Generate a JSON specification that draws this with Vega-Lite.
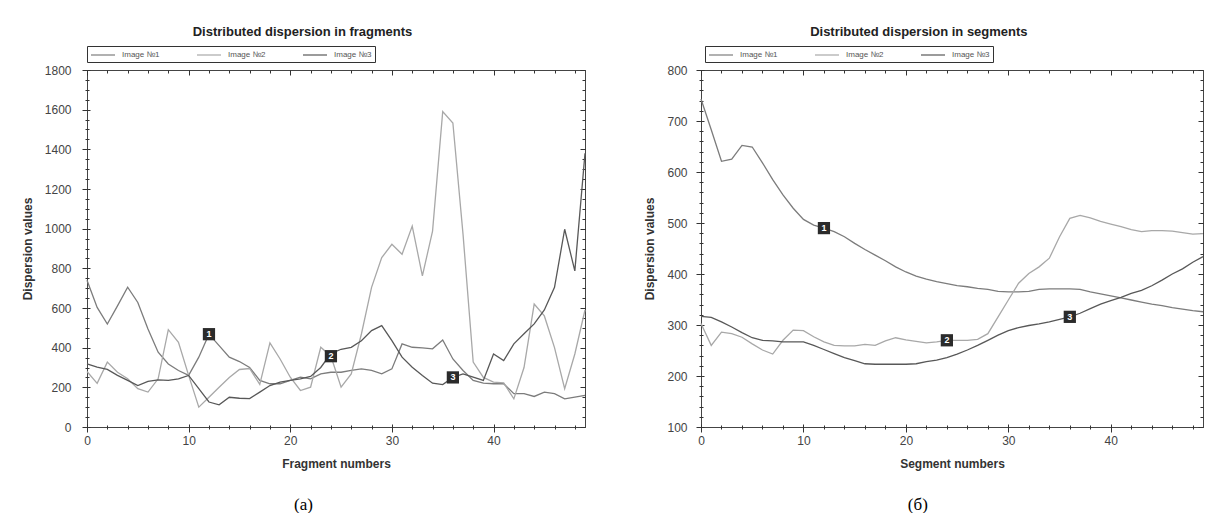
{
  "$schema": "https://vega.github.io/schema/vega-lite/v6.json",
  "background": "white",
  "padding": {"left": 20, "top": 25, "right": 8, "bottom": 0},
  "spacing": 54,
  "resolve": {"scale": {"color": "independent"}, "legend": {"color": "independent"}},
  "config": {
    "view": {"stroke": "#444", "strokeWidth": 1},
    "font": "Liberation Sans",
    "axis": {"labelFont": "Liberation Sans", "labelFontSize": 12, "labelColor": "#444", "titleFont": "Liberation Sans", "titleFontSize": 12, "titleFontWeight": "bold", "titleColor": "#333", "domain": false, "ticks": true, "tickColor": "#333", "tickWidth": 1, "tickOpacity": 1, "grid": false, "labelOverlap": false, "labelFlush": false}
  },
  "datasets": {
    "frag": [
      {"x":0,"Image №1":740,"Image №2":280,"Image №3":318},
      {"x":1,"Image №1":603,"Image №2":220,"Image №3":302},
      {"x":2,"Image №1":519,"Image №2":327,"Image №3":290},
      {"x":3,"Image №1":611,"Image №2":276,"Image №3":260},
      {"x":4,"Image №1":705,"Image №2":243,"Image №3":235},
      {"x":5,"Image №1":628,"Image №2":193,"Image №3":209},
      {"x":6,"Image №1":494,"Image №2":176,"Image №3":230},
      {"x":7,"Image №1":377,"Image №2":243,"Image №3":238},
      {"x":8,"Image №1":318,"Image №2":491,"Image №3":235},
      {"x":9,"Image №1":285,"Image №2":427,"Image №3":243},
      {"x":10,"Image №1":260,"Image №2":260,"Image №3":260},
      {"x":11,"Image №1":352,"Image №2":100,"Image №3":193},
      {"x":12,"Image №1":468,"Image №2":150,"Image №3":126},
      {"x":13,"Image №1":410,"Image №2":200,"Image №3":112},
      {"x":14,"Image №1":352,"Image №2":250,"Image №3":150},
      {"x":15,"Image №1":330,"Image №2":290,"Image №3":145},
      {"x":16,"Image №1":300,"Image №2":295,"Image №3":143},
      {"x":17,"Image №1":235,"Image №2":215,"Image №3":176},
      {"x":18,"Image №1":218,"Image №2":424,"Image №3":209},
      {"x":19,"Image №1":218,"Image №2":343,"Image №3":226},
      {"x":20,"Image №1":235,"Image №2":251,"Image №3":235},
      {"x":21,"Image №1":251,"Image №2":184,"Image №3":243},
      {"x":22,"Image №1":243,"Image №2":201,"Image №3":255},
      {"x":23,"Image №1":268,"Image №2":402,"Image №3":300},
      {"x":24,"Image №1":276,"Image №2":357,"Image №3":370},
      {"x":25,"Image №1":276,"Image №2":201,"Image №3":392},
      {"x":26,"Image №1":285,"Image №2":268,"Image №3":402},
      {"x":27,"Image №1":293,"Image №2":469,"Image №3":435},
      {"x":28,"Image №1":285,"Image №2":704,"Image №3":486},
      {"x":29,"Image №1":268,"Image №2":854,"Image №3":511},
      {"x":30,"Image №1":293,"Image №2":921,"Image №3":435},
      {"x":31,"Image №1":419,"Image №2":871,"Image №3":352},
      {"x":32,"Image №1":402,"Image №2":1013,"Image №3":301},
      {"x":33,"Image №1":399,"Image №2":762,"Image №3":260},
      {"x":34,"Image №1":394,"Image №2":988,"Image №3":221},
      {"x":35,"Image №1":439,"Image №2":1590,"Image №3":214},
      {"x":36,"Image №1":343,"Image №2":1533,"Image №3":250},
      {"x":37,"Image №1":285,"Image №2":971,"Image №3":268},
      {"x":38,"Image №1":235,"Image №2":327,"Image №3":251},
      {"x":39,"Image №1":221,"Image №2":250,"Image №3":235},
      {"x":40,"Image №1":218,"Image №2":226,"Image №3":368},
      {"x":41,"Image №1":218,"Image №2":222,"Image №3":335},
      {"x":42,"Image №1":168,"Image №2":142,"Image №3":419},
      {"x":43,"Image №1":168,"Image №2":300,"Image №3":470},
      {"x":44,"Image №1":154,"Image №2":620,"Image №3":520},
      {"x":45,"Image №1":176,"Image №2":560,"Image №3":590},
      {"x":46,"Image №1":168,"Image №2":400,"Image №3":704},
      {"x":47,"Image №1":142,"Image №2":193,"Image №3":997},
      {"x":48,"Image №1":151,"Image №2":368,"Image №3":787},
      {"x":49,"Image №1":159,"Image №2":590,"Image №3":1380}
    ],
    "seg": [
      {"x":0,"Image №1":743,"Image №2":303,"Image №3":317},
      {"x":1,"Image №1":683,"Image №2":260,"Image №3":315},
      {"x":2,"Image №1":621,"Image №2":286,"Image №3":306},
      {"x":3,"Image №1":625,"Image №2":283,"Image №3":296},
      {"x":4,"Image №1":652,"Image №2":276,"Image №3":285},
      {"x":5,"Image №1":649,"Image №2":263,"Image №3":275},
      {"x":6,"Image №1":618,"Image №2":251,"Image №3":270},
      {"x":7,"Image №1":585,"Image №2":243,"Image №3":269},
      {"x":8,"Image №1":555,"Image №2":270,"Image №3":267},
      {"x":9,"Image №1":529,"Image №2":290,"Image №3":267},
      {"x":10,"Image №1":507,"Image №2":289,"Image №3":267},
      {"x":11,"Image №1":496,"Image №2":277,"Image №3":260},
      {"x":12,"Image №1":490,"Image №2":267,"Image №3":252},
      {"x":13,"Image №1":483,"Image №2":260,"Image №3":244},
      {"x":14,"Image №1":473,"Image №2":259,"Image №3":236},
      {"x":15,"Image №1":460,"Image №2":259,"Image №3":230},
      {"x":16,"Image №1":448,"Image №2":262,"Image №3":224},
      {"x":17,"Image №1":437,"Image №2":260,"Image №3":223},
      {"x":18,"Image №1":426,"Image №2":269,"Image №3":223},
      {"x":19,"Image №1":414,"Image №2":275,"Image №3":223},
      {"x":20,"Image №1":404,"Image №2":271,"Image №3":223},
      {"x":21,"Image №1":396,"Image №2":268,"Image №3":224},
      {"x":22,"Image №1":390,"Image №2":265,"Image №3":228},
      {"x":23,"Image №1":385,"Image №2":267,"Image №3":231},
      {"x":24,"Image №1":381,"Image №2":270,"Image №3":236},
      {"x":25,"Image №1":377,"Image №2":270,"Image №3":243},
      {"x":26,"Image №1":375,"Image №2":270,"Image №3":251},
      {"x":27,"Image №1":372,"Image №2":272,"Image №3":260},
      {"x":28,"Image №1":370,"Image №2":283,"Image №3":270},
      {"x":29,"Image №1":366,"Image №2":316,"Image №3":280},
      {"x":30,"Image №1":365,"Image №2":349,"Image №3":289},
      {"x":31,"Image №1":365,"Image №2":382,"Image №3":295},
      {"x":32,"Image №1":366,"Image №2":401,"Image №3":299},
      {"x":33,"Image №1":370,"Image №2":414,"Image №3":302},
      {"x":34,"Image №1":371,"Image №2":431,"Image №3":306},
      {"x":35,"Image №1":371,"Image №2":473,"Image №3":311},
      {"x":36,"Image №1":371,"Image №2":509,"Image №3":316},
      {"x":37,"Image №1":370,"Image №2":515,"Image №3":323},
      {"x":38,"Image №1":365,"Image №2":510,"Image №3":332},
      {"x":39,"Image №1":361,"Image №2":503,"Image №3":341},
      {"x":40,"Image №1":357,"Image №2":498,"Image №3":348},
      {"x":41,"Image №1":353,"Image №2":493,"Image №3":354},
      {"x":42,"Image №1":349,"Image №2":487,"Image №3":362},
      {"x":43,"Image №1":345,"Image №2":483,"Image №3":368},
      {"x":44,"Image №1":341,"Image №2":485,"Image №3":377},
      {"x":45,"Image №1":338,"Image №2":485,"Image №3":388},
      {"x":46,"Image №1":334,"Image №2":484,"Image №3":400},
      {"x":47,"Image №1":331,"Image №2":481,"Image №3":410},
      {"x":48,"Image №1":328,"Image №2":478,"Image №3":423},
      {"x":49,"Image №1":326,"Image №2":479,"Image №3":434}
    ],
    "fragMarks": [
      {"x":12,"v":468,"label":"1"},
      {"x":24,"v":357,"label":"2"},
      {"x":36,"v":250,"label":"3"}
    ],
    "segMarks": [
      {"x":12,"v":490,"label":"1"},
      {"x":24,"v":270,"label":"2"},
      {"x":36,"v":316,"label":"3"}
    ]
  },
  "hconcat": [
    {
      "title": {"text": "(а)", "orient": "bottom", "font": "Liberation Serif", "fontSize": 17, "fontWeight": "normal", "color": "#000", "offset": 27, "anchor": "middle", "dx": -1},
      "vconcat": [
        {
          "width": 498,
          "height": 357,
          "title": {"text": "Distributed dispersion in fragments", "font": "Liberation Sans", "fontSize": 13, "fontWeight": "bold", "color": "#222", "anchor": "middle", "frame": "bounds", "offset": 25, "dx": -2},
          "data": {"name": "frag"},
          "transform": [{"fold": ["Image №1", "Image №2", "Image №3"], "as": ["s", "v"]}],
          "layer": [
            {
              "mark": {"type": "line", "strokeWidth": 1.3},
              "encoding": {
                "x": {"field": "x", "type": "quantitative", "scale": {"domain": [0, 49], "nice": false, "zero": false},
                  "axis": {"title": "Fragment numbers", "values": [0,10,20,30,40], "offset": -3, "ticks": true, "tickSize": 8, "labelPadding": 3, "titlePadding": 12}},
                "y": {"field": "v", "type": "quantitative", "scale": {"domain": [0, 1800], "nice": false},
                  "axis": {"title": "Dispersion values", "values": [0,200,400,600,800,1000,1200,1400,1600,1800], "format": "d", "offset": -3, "ticks": true, "tickSize": 8, "labelPadding": 11, "titlePadding": 10}},
                "color": {"field": "s", "type": "nominal",
                  "scale": {"domain": ["Image №1", "Image №2", "Image №3"], "range": ["#7c7c7c", "#a8a8a8", "#585858"]},
                  "legend": {"orient": "none", "legendX": 0, "legendY": -24, "direction": "horizontal", "title": null, "symbolType": "M-1,0H3.8", "symbolSize": 100, "symbolStrokeWidth": 1.2, "labelFontSize": 8, "labelColor": "#555", "labelOffset": 20, "strokeColor": "#333", "padding": 3, "columnPadding": 34}}
              }
            },
            {
              "mark": {"type": "point", "opacity": 0},
              "encoding": {
                "x": {"field": "x", "type": "quantitative", "axis": {"orient": "bottom", "title": null, "labels": false, "ticks": true, "values": [0,2,4,6,8,10,12,14,16,18,20,22,24,26,28,30,32,34,36,38,40,42,44,46,48], "offset": -2, "tickSize": 4}},
                "y": {"field": "v", "type": "quantitative", "axis": {"orient": "left", "title": null, "labels": false, "ticks": true, "values": [0,50,100,150,200,250,300,350,400,450,500,550,600,650,700,750,800,850,900,950,1000,1050,1100,1150,1200,1250,1300,1350,1400,1450,1500,1550,1600,1650,1700,1750,1800], "offset": -2, "tickSize": 4}}
              }
            },
            {
              "mark": {"type": "point", "opacity": 0},
              "encoding": {
                "x": {"field": "x", "type": "quantitative", "axis": {"orient": "top", "title": null, "labels": false, "ticks": true, "values": [0,2,4,6,8,10,12,14,16,18,20,22,24,26,28,30,32,34,36,38,40,42,44,46,48], "offset": -3, "tickSize": 3}},
                "y": {"field": "v", "type": "quantitative", "axis": {"orient": "right", "title": null, "labels": false, "ticks": true, "values": [0,50,100,150,200,250,300,350,400,450,500,550,600,650,700,750,800,850,900,950,1000,1050,1100,1150,1200,1250,1300,1350,1400,1450,1500,1550,1600,1650,1700,1750,1800], "offset": -3, "tickSize": 3}}
              }
            },
            {
              "mark": {"type": "point", "opacity": 0},
              "encoding": {
                "x": {"field": "x", "type": "quantitative", "axis": {"orient": "top", "title": null, "labels": false, "ticks": true, "values": [0,10,20,30,40], "offset": -5, "tickSize": 5}},
                "y": {"field": "v", "type": "quantitative", "axis": {"orient": "right", "title": null, "labels": false, "ticks": true, "values": [0,200,400,600,800,1000,1200,1400,1600,1800], "offset": -5, "tickSize": 5}}
              }
            },
            {
              "data": {"name": "fragMarks"},
              "mark": {"type": "point", "shape": "square", "filled": true, "color": "#2b2b2b", "size": 150, "opacity": 1},
              "encoding": {"x": {"field": "x", "type": "quantitative", "axis": null}, "y": {"field": "v", "type": "quantitative", "axis": null}}
            },
            {
              "data": {"name": "fragMarks"},
              "mark": {"type": "text", "color": "white", "fontSize": 9, "fontWeight": "bold"},
              "encoding": {"x": {"field": "x", "type": "quantitative", "axis": null}, "y": {"field": "v", "type": "quantitative", "axis": null}, "text": {"field": "label"}}
            }
          ],
          "resolve": {"axis": {"x": "independent", "y": "independent"}}
        }
      ]
    },
    {
      "title": {"text": "(б)", "orient": "bottom", "font": "Liberation Serif", "fontSize": 17, "fontWeight": "normal", "color": "#000", "offset": 27, "anchor": "middle", "dx": -7},
      "vconcat": [
        {
          "width": 502,
          "height": 357,
          "title": {"text": "Distributed dispersion in segments", "font": "Liberation Sans", "fontSize": 13, "fontWeight": "bold", "color": "#222", "anchor": "middle", "frame": "bounds", "offset": 25, "dx": -6},
          "data": {"name": "seg"},
          "transform": [{"fold": ["Image №1", "Image №2", "Image №3"], "as": ["s", "v"]}],
          "layer": [
            {
              "mark": {"type": "line", "strokeWidth": 1.3},
              "encoding": {
                "x": {"field": "x", "type": "quantitative", "scale": {"domain": [0, 49], "nice": false, "zero": false},
                  "axis": {"title": "Segment numbers", "values": [0,10,20,30,40], "offset": -3, "ticks": true, "tickSize": 8, "labelPadding": 3, "titlePadding": 12}},
                "y": {"field": "v", "type": "quantitative", "scale": {"domain": [100, 800], "nice": false, "zero": false},
                  "axis": {"title": "Dispersion values", "values": [100,200,300,400,500,600,700,800], "format": "d", "offset": -3, "ticks": true, "tickSize": 8, "labelPadding": 9, "titlePadding": 10}},
                "color": {"field": "s", "type": "nominal",
                  "scale": {"domain": ["Image №1", "Image №2", "Image №3"], "range": ["#7c7c7c", "#a8a8a8", "#585858"]},
                  "legend": {"orient": "none", "legendX": 4, "legendY": -24, "direction": "horizontal", "title": null, "symbolType": "M-1,0H3.8", "symbolSize": 100, "symbolStrokeWidth": 1.2, "labelFontSize": 8, "labelColor": "#555", "labelOffset": 20, "strokeColor": "#333", "padding": 3, "columnPadding": 34}}
              }
            },
            {
              "mark": {"type": "point", "opacity": 0},
              "encoding": {
                "x": {"field": "x", "type": "quantitative", "axis": {"orient": "bottom", "title": null, "labels": false, "ticks": true, "values": [0,2,4,6,8,10,12,14,16,18,20,22,24,26,28,30,32,34,36,38,40,42,44,46,48], "offset": -2, "tickSize": 4}},
                "y": {"field": "v", "type": "quantitative", "axis": {"orient": "left", "title": null, "labels": false, "ticks": true, "values": [100,120,140,160,180,200,220,240,260,280,300,320,340,360,380,400,420,440,460,480,500,520,540,560,580,600,620,640,660,680,700,720,740,760,780,800], "offset": -2, "tickSize": 4}}
              }
            },
            {
              "mark": {"type": "point", "opacity": 0},
              "encoding": {
                "x": {"field": "x", "type": "quantitative", "axis": {"orient": "top", "title": null, "labels": false, "ticks": true, "values": [0,2,4,6,8,10,12,14,16,18,20,22,24,26,28,30,32,34,36,38,40,42,44,46,48], "offset": -3, "tickSize": 3}},
                "y": {"field": "v", "type": "quantitative", "axis": {"orient": "right", "title": null, "labels": false, "ticks": true, "values": [100,120,140,160,180,200,220,240,260,280,300,320,340,360,380,400,420,440,460,480,500,520,540,560,580,600,620,640,660,680,700,720,740,760,780,800], "offset": -3, "tickSize": 3}}
              }
            },
            {
              "mark": {"type": "point", "opacity": 0},
              "encoding": {
                "x": {"field": "x", "type": "quantitative", "axis": {"orient": "top", "title": null, "labels": false, "ticks": true, "values": [0,10,20,30,40], "offset": -5, "tickSize": 5}},
                "y": {"field": "v", "type": "quantitative", "axis": {"orient": "right", "title": null, "labels": false, "ticks": true, "values": [100,200,300,400,500,600,700,800], "offset": -5, "tickSize": 5}}
              }
            },
            {
              "data": {"name": "segMarks"},
              "mark": {"type": "point", "shape": "square", "filled": true, "color": "#2b2b2b", "size": 150, "opacity": 1},
              "encoding": {"x": {"field": "x", "type": "quantitative", "axis": null}, "y": {"field": "v", "type": "quantitative", "axis": null}}
            },
            {
              "data": {"name": "segMarks"},
              "mark": {"type": "text", "color": "white", "fontSize": 9, "fontWeight": "bold"},
              "encoding": {"x": {"field": "x", "type": "quantitative", "axis": null}, "y": {"field": "v", "type": "quantitative", "axis": null}, "text": {"field": "label"}}
            }
          ],
          "resolve": {"axis": {"x": "independent", "y": "independent"}}
        }
      ]
    }
  ]
}
